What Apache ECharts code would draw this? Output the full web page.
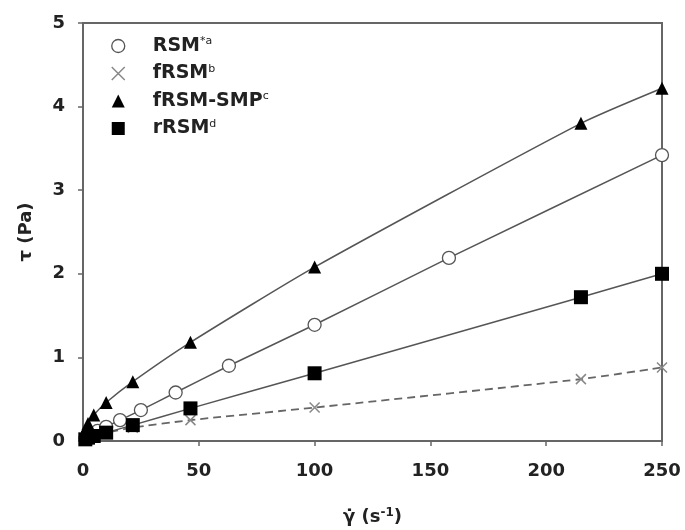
<!DOCTYPE html>
<html><head><meta charset="utf-8">
<script src="https://cdn.jsdelivr.net/npm/echarts/dist/echarts.min.js"></script>
<style>html,body{margin:0;padding:0;background:#fff}#c{width:685px;height:530px}</style>
</head><body><div id="c"></div>
<script>
// Shear rate (s^-1) values
const rsmX = [1, 1.6, 2.5, 4, 6.3, 10, 16, 25, 40, 63, 100, 158, 250];
const rsmY = [0.03, 0.04, 0.06, 0.08, 0.12, 0.17, 0.25, 0.37, 0.58, 0.90, 1.39, 2.19, 3.42];
const otherX = [1, 2.15, 4.64, 10, 21.5, 46.4, 100, 215, 250];
const frsmY = [0.03, 0.05, 0.07, 0.10, 0.16, 0.25, 0.40, 0.74, 0.88];
const smpY = [0.13, 0.21, 0.31, 0.46, 0.71, 1.18, 2.08, 3.80, 4.22];
const rrsmY = [0.02, 0.04, 0.06, 0.10, 0.19, 0.39, 0.81, 1.72, 2.00];
const seriesNames = ['RSM', 'fRSM', 'fRSM-SMP', 'rRSM'];
const superscripts = ['*a', 'b', 'c', 'd'];
const xTicks = [0, 50, 100, 150, 200, 250];
const yTicks = [0, 1, 2, 3, 4, 5];

const pair = (xs, ys) => xs.map((x, i) => [x, ys[i]]);
const FONT = 'DejaVu Sans';
const LINE = '#555';
const crossPath = 'path://M0,0L10,10M10,0L0,10';

const chart = echarts.init(document.getElementById('c'), null, {renderer: 'canvas'});
chart.setOption({
  animation: false,
  backgroundColor: '#fff',
  grid: {left: 83, right: 23, top: 23, bottom: 89, containLabel: false, outerBoundsMode: 'none',
         show: true, borderColor: '#666', borderWidth: 2},
  legend: {
    orient: 'vertical', left: 106, top: 31, itemWidth: 13, itemHeight: 13, itemGap: 8,
    selectedMode: false,
    data: [
      {name: 'RSM', icon: 'circle', itemStyle: {color: '#fff', borderColor: '#555', borderWidth: 1.3}},
      {name: 'fRSM', icon: crossPath, itemStyle: {color: '#888', borderColor: '#888', borderWidth: 1.5}},
      {name: 'fRSM-SMP', icon: 'triangle', itemStyle: {color: '#000', borderWidth: 0}},
      {name: 'rRSM', icon: 'rect', itemStyle: {color: '#000', borderWidth: 0}}
    ],
    formatter: function (n) {
      const i = seriesNames.indexOf(n);
      return '{sp| }{b|' + n + '}{s|' + superscripts[i] + '}';
    },
    textStyle: {
      fontFamily: FONT, color: '#222',
      rich: {
        sp: {width: 23},
        b: {fontFamily: FONT, fontWeight: 'bold', fontSize: 19, color: '#222', lineHeight: 21},
        s: {fontFamily: FONT, fontSize: 11, color: '#222', padding: [0, 0, 9, 0]}
      }
    }
  },
  xAxis: {
    type: 'value', min: xTicks[0], max: xTicks[xTicks.length - 1], interval: 50,
    splitLine: {show: false},
    axisLine: {show: true, lineStyle: {color: '#666', width: 2}},
    axisTick: {show: true, inside: false, length: 5, lineStyle: {color: '#666', width: 1.5}},
    axisLabel: {margin: 21, fontFamily: FONT, fontWeight: 'bold', fontSize: 18, color: '#222'},
    name: '\u03B3\u0307 (s{sup|-1})', nameLocation: 'middle', nameGap: 66,
    nameTextStyle: {fontFamily: FONT, fontWeight: 'bold', fontSize: 18, color: '#222',
      rich: {sup: {fontFamily: FONT, fontWeight: 'bold', fontSize: 12, color: '#222', padding: [0, 0, 9, 0]}}}
  },
  yAxis: {
    type: 'value', min: yTicks[0], max: yTicks[yTicks.length - 1], interval: 1,
    splitLine: {show: false},
    axisLine: {show: true, lineStyle: {color: '#666', width: 2}},
    axisTick: {show: true, inside: false, length: 5, lineStyle: {color: '#666', width: 1.5}},
    axisLabel: {margin: 18, fontFamily: FONT, fontWeight: 'bold', fontSize: 18, color: '#222'},
    name: '\u03C4 (Pa)', nameLocation: 'middle', nameGap: 48, nameRotate: 90,
    nameTextStyle: {fontFamily: FONT, fontWeight: 'bold', fontSize: 18, color: '#222'}
  },
  series: [
    {name: 'RSM', type: 'line', data: pair(rsmX, rsmY), smooth: 0.2, clip: false,
     symbol: 'circle', symbolSize: 13,
     itemStyle: {color: '#fff', borderColor: '#555', borderWidth: 1.3},
     lineStyle: {color: LINE, width: 1.5}, z: 3},
    {name: 'fRSM', type: 'line', data: pair(otherX, frsmY), smooth: 0.2, clip: false,
     symbol: crossPath, symbolSize: 10,
     itemStyle: {color: '#888', borderColor: '#888', borderWidth: 1.5},
     lineStyle: {color: '#666', width: 1.8, type: [8, 5]}, z: 2},
    {name: 'fRSM-SMP', type: 'line', data: pair(otherX, smpY), smooth: 0.2, clip: false,
     symbol: 'triangle', symbolSize: 13,
     itemStyle: {color: '#000', borderWidth: 0},
     lineStyle: {color: LINE, width: 1.5}, z: 4},
    {name: 'rRSM', type: 'line', data: pair(otherX, rrsmY), smooth: 0.2, clip: false,
     symbol: 'rect', symbolSize: 14,
     itemStyle: {color: '#000', borderWidth: 0},
     lineStyle: {color: LINE, width: 1.5}, z: 5}
  ]
});
</script>
</body></html>
